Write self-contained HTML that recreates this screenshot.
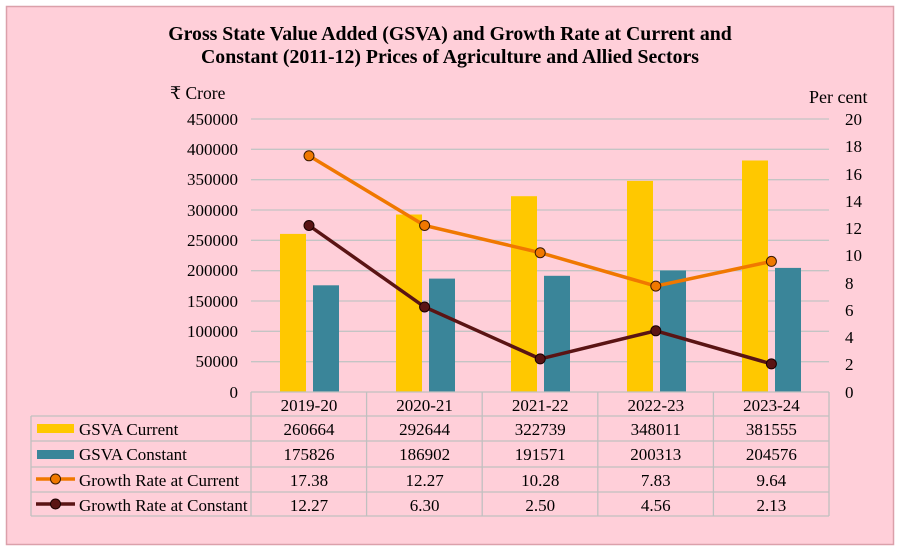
<!DOCTYPE html>
<html><head><meta charset="utf-8"><style>
body{margin:0;background:#fff}
svg{display:block;font-family:"Liberation Serif",serif}
</style></head><body>
<svg width="903" height="552" viewBox="0 0 903 552" xmlns="http://www.w3.org/2000/svg">
<rect x="6.5" y="6.5" width="887" height="538" fill="#ffcfd9" stroke="#dba0aa" stroke-width="1.5"/>
<text x="450" y="40" text-anchor="middle" font-weight="bold" font-size="19.8">Gross State Value Added (GSVA) and Growth Rate at Current and</text>
<text x="450" y="63" text-anchor="middle" font-weight="bold" font-size="19.8">Constant (2011-12) Prices of Agriculture and Allied Sectors</text>
<text x="170" y="99" font-size="17.5" font-family="Liberation Serif,DejaVu Serif,serif">₹ Crore</text>
<text x="809" y="103" font-size="18">Per cent</text>
<g stroke="#c4c4c4" stroke-width="1.3">
<line x1="251" x2="829" y1="119" y2="119"/><line x1="251" x2="829" y1="149.3" y2="149.3"/>
<line x1="251" x2="829" y1="179.7" y2="179.7"/><line x1="251" x2="829" y1="210" y2="210"/>
<line x1="251" x2="829" y1="240.3" y2="240.3"/><line x1="251" x2="829" y1="270.7" y2="270.7"/>
<line x1="251" x2="829" y1="301" y2="301"/><line x1="251" x2="829" y1="331.3" y2="331.3"/>
<line x1="251" x2="829" y1="361.7" y2="361.7"/>
</g>
<g font-size="17" text-anchor="end">
<text x="238" y="125">450000</text><text x="238" y="155">400000</text><text x="238" y="185">350000</text>
<text x="238" y="216">300000</text><text x="238" y="246">250000</text><text x="238" y="276">200000</text>
<text x="238" y="307">150000</text><text x="238" y="337">100000</text><text x="238" y="367">50000</text>
<text x="238" y="398">0</text>
</g>
<g font-size="17">
<text x="845" y="125">20</text><text x="845" y="152">18</text><text x="845" y="180">16</text>
<text x="845" y="207">14</text><text x="845" y="234">12</text><text x="845" y="261">10</text>
<text x="845" y="289">8</text><text x="845" y="316">6</text><text x="845" y="343">4</text>
<text x="845" y="370">2</text><text x="845" y="398">0</text>
</g>
<g fill="#ffc800">
<rect x="280" y="233.9" width="26" height="158.1"/>
<rect x="396" y="214.5" width="26" height="177.5"/>
<rect x="511" y="196.2" width="26" height="195.8"/>
<rect x="627" y="180.9" width="26" height="211.1"/>
<rect x="742" y="160.5" width="26" height="231.5"/>
</g>
<g fill="#3a8599">
<rect x="313" y="285.3" width="26" height="106.7"/>
<rect x="429" y="278.6" width="26" height="113.4"/>
<rect x="544" y="275.8" width="26" height="116.2"/>
<rect x="660" y="270.5" width="26" height="121.5"/>
<rect x="775" y="267.9" width="26" height="124.1"/>
</g>
<polyline fill="none" stroke="#f07800" stroke-width="3.5" points="309,155.8 424.6,225.5 540.2,252.7 655.8,286.1 771.4,261.4"/>
<polyline fill="none" stroke="#5a1414" stroke-width="3.5" points="309,225.5 424.6,307 540.2,358.9 655.8,330.8 771.4,363.9"/>
<g fill="#f07800" stroke="#3a1a00" stroke-width="1">
<circle cx="309" cy="155.8" r="5"/><circle cx="424.6" cy="225.5" r="5"/><circle cx="540.2" cy="252.7" r="5"/><circle cx="655.8" cy="286.1" r="5"/><circle cx="771.4" cy="261.4" r="5"/>
</g>
<g fill="#5a1414" stroke="#1a0000" stroke-width="1">
<circle cx="309" cy="225.5" r="5"/><circle cx="424.6" cy="307" r="5"/><circle cx="540.2" cy="358.9" r="5"/><circle cx="655.8" cy="330.8" r="5"/><circle cx="771.4" cy="363.9" r="5"/>
</g>
<g stroke="#c0c0c0" stroke-width="1.3" fill="none">
<line x1="251" x2="829" y1="392" y2="392"/>
<line x1="31" x2="829" y1="416" y2="416"/>
<line x1="31" x2="829" y1="441" y2="441"/>
<line x1="31" x2="829" y1="467" y2="467"/>
<line x1="31" x2="829" y1="492" y2="492"/>
<line x1="31" x2="829" y1="516" y2="516"/>
<line x1="31" x2="31" y1="416" y2="516"/>
<line x1="251" x2="251" y1="392" y2="516"/>
<line x1="366.6" x2="366.6" y1="392" y2="516"/>
<line x1="482.2" x2="482.2" y1="392" y2="516"/>
<line x1="597.8" x2="597.8" y1="392" y2="516"/>
<line x1="713.4" x2="713.4" y1="392" y2="516"/>
<line x1="829" x2="829" y1="392" y2="516"/>
</g>
<g font-size="17" text-anchor="middle">
<text x="309" y="411">2019-20</text><text x="424.6" y="411">2020-21</text><text x="540.2" y="411">2021-22</text><text x="655.8" y="411">2022-23</text><text x="771.4" y="411">2023-24</text>
<text x="309" y="435">260664</text><text x="424.6" y="435">292644</text><text x="540.2" y="435">322739</text><text x="655.8" y="435">348011</text><text x="771.4" y="435">381555</text>
<text x="309" y="460">175826</text><text x="424.6" y="460">186902</text><text x="540.2" y="460">191571</text><text x="655.8" y="460">200313</text><text x="771.4" y="460">204576</text>
<text x="309" y="486">17.38</text><text x="424.6" y="486">12.27</text><text x="540.2" y="486">10.28</text><text x="655.8" y="486">7.83</text><text x="771.4" y="486">9.64</text>
<text x="309" y="511">12.27</text><text x="424.6" y="511">6.30</text><text x="540.2" y="511">2.50</text><text x="655.8" y="511">4.56</text><text x="771.4" y="511">2.13</text>
</g>
<rect x="37" y="424" width="37" height="9" fill="#ffc800"/>
<rect x="37" y="450" width="37" height="9" fill="#3a8599"/>
<line x1="36" x2="75" y1="479" y2="479" stroke="#f07800" stroke-width="3.5"/>
<circle cx="55.5" cy="479" r="5" fill="#f07800" stroke="#3a1a00"/>
<line x1="36" x2="75" y1="504" y2="504" stroke="#5a1414" stroke-width="3.5"/>
<circle cx="55.5" cy="504" r="5" fill="#5a1414" stroke="#1a0000"/>
<g font-size="17">
<text x="79" y="435">GSVA Current</text>
<text x="79" y="460">GSVA Constant</text>
<text x="79" y="486">Growth Rate at Current</text>
<text x="79" y="511">Growth Rate at Constant</text>
</g>
</svg>
</body></html>
